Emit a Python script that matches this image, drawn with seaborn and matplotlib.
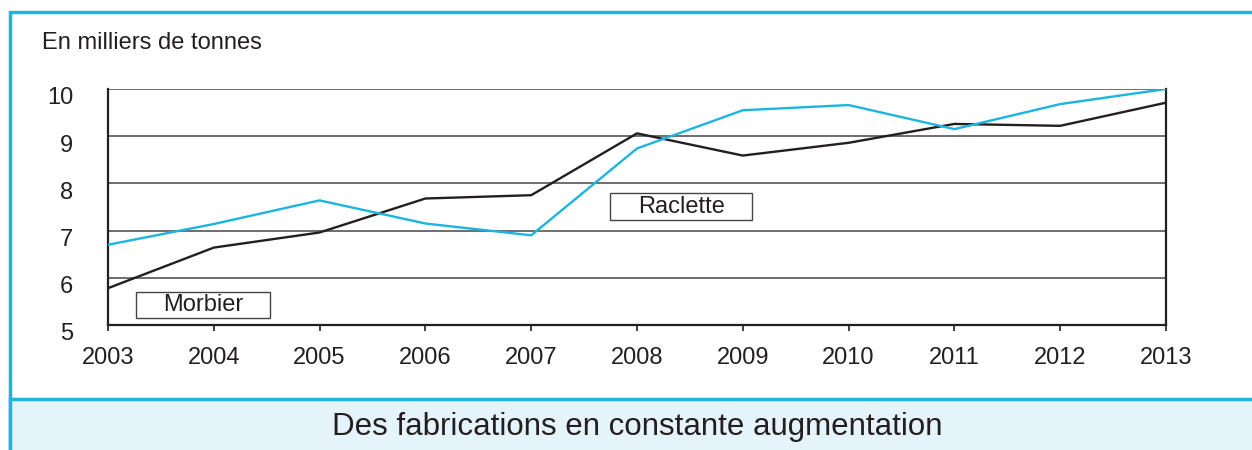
import matplotlib.pyplot as plt
import matplotlib.patches as mpatches
import matplotlib.transforms as mtransforms
import pandas as pd
import seaborn as sns

# Data (thousands of tonnes)
years = [2003, 2004, 2005, 2006, 2007, 2008, 2009, 2010, 2011, 2012, 2013]
morbier = [5.78, 6.64, 6.96, 7.68, 7.75, 9.06, 8.59, 8.86, 9.26, 9.22, 9.71]
raclette = [6.70, 7.14, 7.64, 7.15, 6.90, 8.74, 9.55, 9.66, 9.15, 9.68, 10.0]
y_ticks = [5, 6, 7, 8, 9, 10]

unit_label = "En milliers de tonnes"
caption = "Des fabrications en constante augmentation"

df = pd.DataFrame({
    'annee': years * 2,
    'valeur': morbier + raclette,
    'fromage': ['Morbier'] * len(years) + ['Raclette'] * len(years),
})

sns.set_style("white")
plt.rcParams['font.family'] = ['Liberation Sans', 'DejaVu Sans']

cyan = '#1cb4e0'
black = '#231f20'

fig = plt.figure(figsize=(12.52, 4.5), dpi=100)
W, H = 1252, 450

# outer frame and caption band (behind the axes)
fig.patches.append(mpatches.Rectangle((10 / W, -0.1), 1.0, 1 - 12 / H + 0.1,
                                      transform=fig.transFigure, facecolor='white',
                                      edgecolor=cyan, linewidth=2.5, zorder=-2))
fig.patches.append(mpatches.Rectangle((10 / W, -0.1), 1.0, (450 - 399) / H + 0.1,
                                      transform=fig.transFigure, facecolor='#e5f3fa',
                                      edgecolor=cyan, linewidth=2.5, zorder=-1))

ax = fig.add_axes([108 / W, 1 - 325 / H, (1166 - 108) / W, (325 - 89) / H])
ax.set_facecolor('none')

sns.lineplot(data=df, x='annee', y='valeur', hue='fromage',
             palette={'Morbier': black, 'Raclette': cyan},
             linewidth=1.7, legend=False, ax=ax, zorder=3)

ax.set_xlim(years[0], years[-1])
ax.set_ylim(5, 10)
ax.set_xticks(years)
ax.set_xticklabels([str(y) for y in years], fontsize=17)
ax.set_yticks(y_ticks)
ax.set_yticklabels([str(t) for t in y_ticks], fontsize=17)
ax.set_xlabel('')
ax.set_ylabel('')

for t in y_ticks[1:]:
    ax.axhline(t, color='#555555', linewidth=1.2, zorder=1)

for side in ['left', 'bottom', 'right']:
    ax.spines[side].set_visible(True)
    ax.spines[side].set_color(black)
    ax.spines[side].set_linewidth(1.6)
ax.spines['top'].set_visible(False)

ax.tick_params(axis='x', direction='out', length=4, width=1.2, color=black,
               bottom=True, pad=12, labelcolor=black)
ax.tick_params(axis='y', length=0, pad=25, labelcolor=black)

# y labels sit a little below their gridline in the reference
shift = mtransforms.ScaledTranslation(0, -5 / 72, fig.dpi_scale_trans)
for lab in ax.get_yticklabels():
    lab.set_transform(lab.get_transform() + shift)

# series labels in boxes
def label_box(x0, x1, y0, y1, text):
    ax.add_patch(mpatches.Rectangle((x0, y0), x1 - x0, y1 - y0, facecolor='white',
                                    edgecolor='#444444', linewidth=1.0, zorder=4))
    ax.text((x0 + x1) / 2, (y0 + y1) / 2, text, ha='center', va='center',
            fontsize=17, color=black, zorder=5)

label_box(2003.265, 2004.53, 5.15, 5.70, 'Morbier')
label_box(2007.745, 2009.09, 7.22, 7.80, 'Raclette')

fig.text(42 / W, 1 - 49 / H, unit_label, fontsize=17, color=black, va='baseline')
fig.text(637 / W, 1 - 435 / H, caption, fontsize=22.5, color=black,
         ha='center', va='baseline')

fig.savefig('out.png', dpi=100)
